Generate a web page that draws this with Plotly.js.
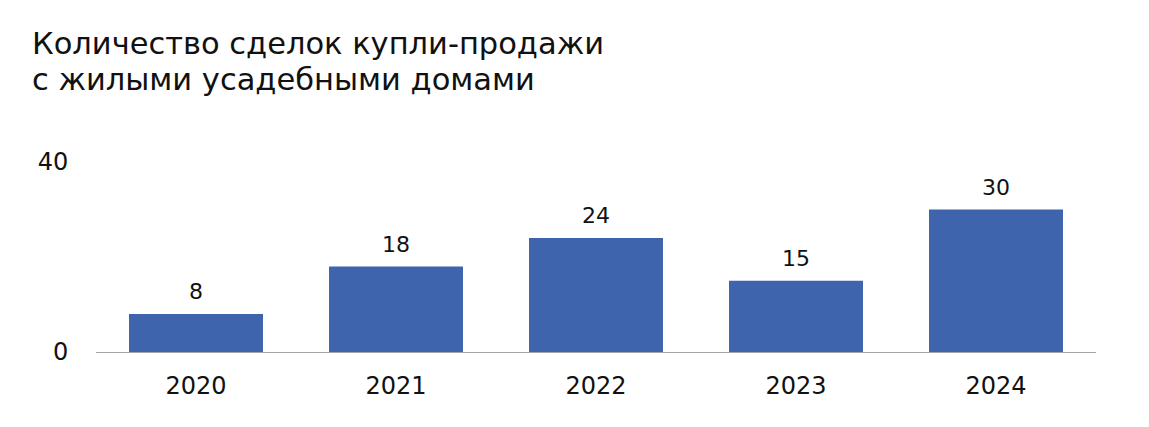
<!DOCTYPE html>
<html>
<head>
<meta charset="utf-8">
<script src="https://cdn.plot.ly/plotly-3.0.1.min.js"></script>
<style>
  html, body { margin: 0; padding: 0; background: #fff; }
  #graph { width: 1149px; height: 427px; }
</style>
</head>
<body>
<div id="graph"></div>
<script>
const years = ['2020', '2021', '2022', '2023', '2024'];
const deals = [8, 18, 24, 15, 30];
const yTicks = [0, 40];
const titleLines = ['Количество сделок купли-продажи', 'с жилыми усадебными домами'];

function init_plot() {
    const trace = {
        x: years,
        y: deals,
        type: 'bar',
        marker: { color: '#3d64ad' },
        hoverinfo: 'skip'
    };

    // value labels above the bars (category index as x)
    const labels = years.map(function (yr, i) {
        return {
            x: i, y: deals[i],
            xref: 'x', yref: 'y',
            text: String(deals[i]),
            showarrow: false,
            yanchor: 'bottom',
            yshift: 8,
            font: { size: 22, color: '#111' }
        };
    });

    // title lines, placed in paper units (plot area: x 96..1096, y 162..352 px)
    const titles = titleLines.map(function (line, i) {
        return {
            text: line,
            xref: 'paper', yref: 'paper',
            x: -0.066, y: 1.0 + (162 - (44 + i * 35)) / 190,
            xanchor: 'left', yanchor: 'middle',
            align: 'left',
            showarrow: false,
            font: { size: 30.5, color: '#111' }
        };
    });

    const layout = {
        width: 1149,
        height: 427,
        margin: { l: 96, r: 53, t: 162, b: 75 },
        paper_bgcolor: '#fff',
        plot_bgcolor: '#fff',
        font: { family: 'DejaVu Sans, sans-serif', color: '#111' },
        annotations: titles.concat(labels),
        bargap: 0.33,
        showlegend: false,
        xaxis: {
            type: 'category',
            showline: true,
            linecolor: '#a6a6a6',
            linewidth: 1,
            ticks: 'outside',
            ticklen: 12,
            tickcolor: 'rgba(0,0,0,0)',
            tickfont: { size: 24 },
            showgrid: false,
            zeroline: false
        },
        yaxis: {
            range: [0, 40],
            tickvals: yTicks,
            showgrid: false,
            zeroline: false,
            showline: false,
            ticks: 'outside',
            ticklen: 22,
            tickcolor: 'rgba(0,0,0,0)',
            tickfont: { size: 24 }
        }
    };

    Plotly.react('graph', [trace], layout, { displayModeBar: false, staticPlot: true });
}

window.addEventListener("load", init_plot, false);
</script>
</body>
</html>
